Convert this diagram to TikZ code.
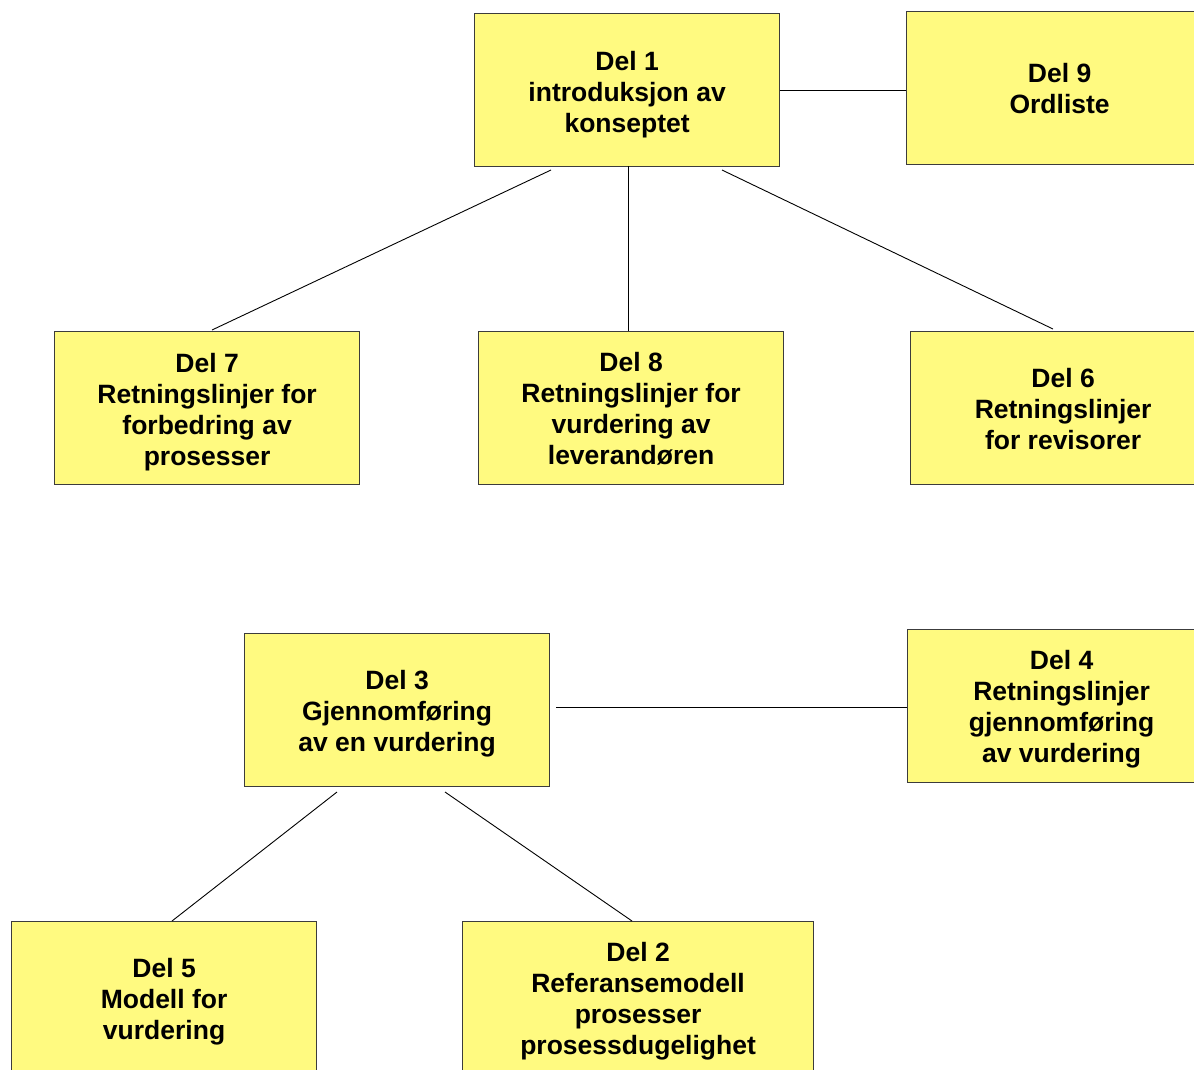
\documentclass[tikz,border=0pt]{standalone}
\usepackage{fontspec}
\setmainfont{Liberation Sans}
\definecolor{partfill}{HTML}{FFFA80}
\definecolor{partedge}{HTML}{3C3C3C}
% first line with a strut, so the block of text sits a little lower in its box
\newcommand{\headline}[2][28pt]{\rule{0pt}{#1}#2}
\begin{document}
\begin{tikzpicture}[x=1pt,y=-1pt,
  part/.style={draw=partedge, line width=1.2pt, fill=partfill, anchor=north west,
    inner sep=0pt, align=center, font=\bfseries\fontsize{26.5}{31}\selectfont},
  link/.style={draw=black, line width=0.9pt}]
\useasboundingbox (0,0) rectangle (1194,1069);
\clip (0,0) rectangle (1194,1069);

% upper group
\node[part, minimum width=305pt, minimum height=153pt] (d1) at (474,13) {\headline{Del 1}\\introduksjon av\\konseptet};
\node[part, minimum width=306pt, minimum height=153pt] (d9) at (906,11) {Del 9\\Ordliste};
\node[part, minimum width=305pt, minimum height=153pt] (d7) at (54,331) {\headline{Del 7}\\Retningslinjer for\\forbedring av\\prosesser};
\node[part, minimum width=305pt, minimum height=153pt] (d8) at (478,331) {\headline[20pt]{Del 8}\\Retningslinjer for\\vurdering av\\leverandøren};
\node[part, minimum width=305pt, minimum height=153pt] (d6) at (910,331) {\headline[22pt]{Del 6}\\Retningslinjer\\for revisorer};

% lower group
\node[part, minimum width=305pt, minimum height=153pt] (d3) at (244,633) {\headline[26pt]{Del 3}\\Gjennomføring\\av en vurdering};
\node[part, minimum width=308pt, minimum height=153pt] (d4) at (907,629) {\headline[26pt]{Del 4}\\Retningslinjer\\gjennomføring\\av vurdering};
\node[part, minimum width=305pt, minimum height=153pt] (d5) at (11,921) {\headline[26pt]{Del 5}\\Modell for\\vurdering};
\node[part, minimum width=351pt, minimum height=153pt] (d2) at (462,921) {\headline[26pt]{Del 2}\\Referansemodell\\prosesser\\prosessdugelighet};

% free ends of the connectors, just off the box edges
\coordinate (d1l) at (551,170);
\coordinate (d1m) at (628,166);
\coordinate (d1r) at (722,170);
\coordinate (d7t) at (212,330);
\coordinate (d8t) at (628,331);
\coordinate (d6t) at (1053,329);
\coordinate (d3e) at (556,707);
\coordinate (d4w) at (907,707);
\coordinate (d3l) at (337,792);
\coordinate (d3r) at (445,792);
\coordinate (d5t) at (172,921);
\coordinate (d2t) at (632,921);

\draw[link] (d1.east) -- (d9.west |- d1.east);
\draw[link] (d1l) -- (d7t);
\draw[link] (d1m) -- (d8t);
\draw[link] (d1r) -- (d6t);
\draw[link] (d3e) -- (d4w);
\draw[link] (d3l) -- (d5t);
\draw[link] (d3r) -- (d2t);
\end{tikzpicture}
\end{document}
